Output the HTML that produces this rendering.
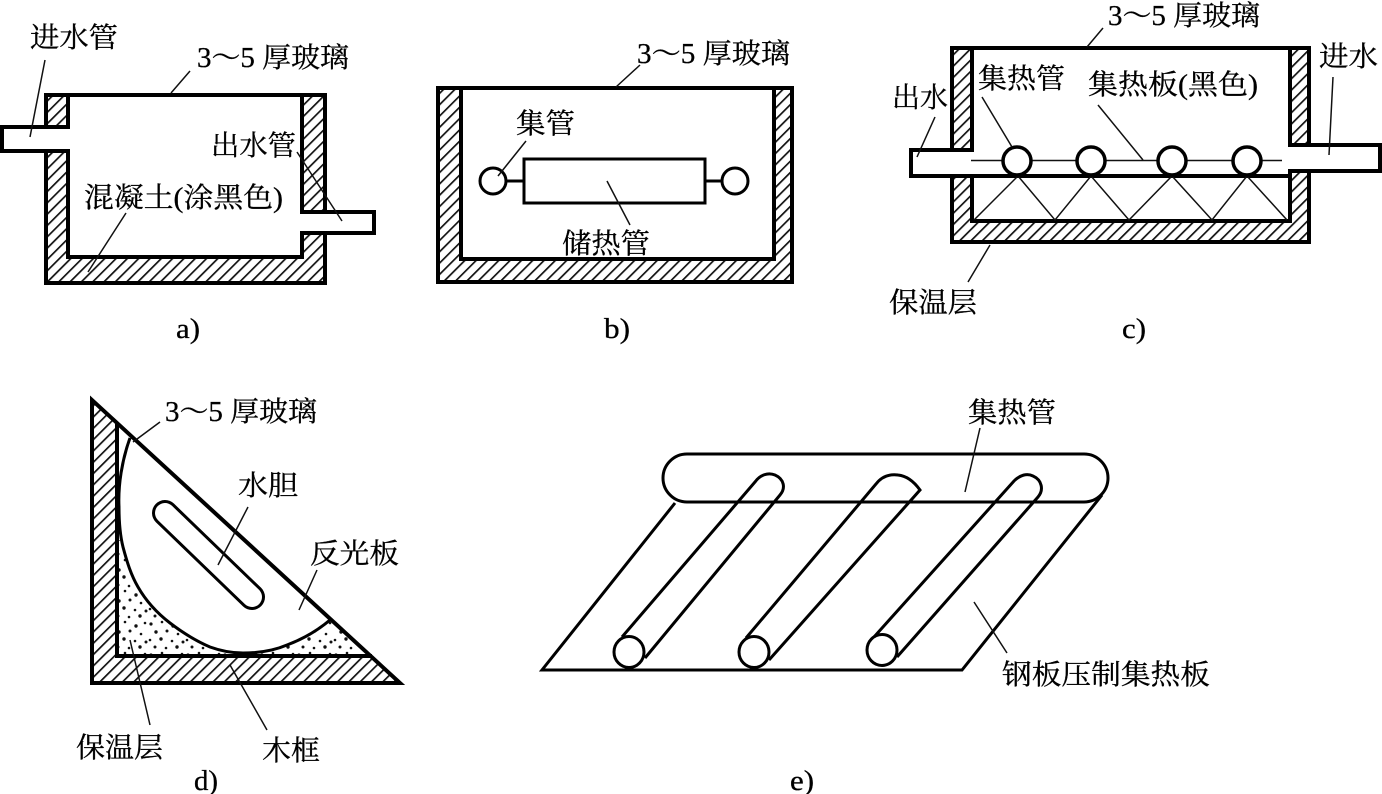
<!DOCTYPE html>
<html><head><meta charset="utf-8"><style>
html,body{margin:0;padding:0;background:#fff;width:1382px;height:794px;overflow:hidden}
svg{display:block}
text{font-family:"Liberation Serif","Noto Serif CJK SC",serif;font-size:28px;fill:#000;stroke:#000;stroke-width:.3}
.s{fill:none;stroke:#000;stroke-width:4;stroke-linejoin:miter}
.t{fill:none;stroke:#111;stroke-width:1.5}
.m{fill:none;stroke:#000;stroke-width:3}
</style></head><body>
<svg width="1382" height="794" viewBox="0 0 1382 794" xmlns="http://www.w3.org/2000/svg">
<defs>
<pattern id="h" width="8" height="8" patternUnits="userSpaceOnUse" patternTransform="rotate(45)">
<rect width="8" height="8" fill="#fff"/><rect x="0" y="0" width="1.700" height="8" fill="#111"/>
</pattern>
<pattern id="d" width="37" height="31" patternUnits="userSpaceOnUse">
<rect width="37" height="31" fill="#fff"/>
<g fill="#111"><circle cx="3" cy="4" r="1.600"/><circle cx="14" cy="2" r="1.300"/><circle cx="25" cy="6" r="1.700"/><circle cx="34" cy="3" r="1.300"/><circle cx="8" cy="12" r="1.700"/><circle cx="19" cy="11" r="1.500"/><circle cx="30" cy="14" r="1.300"/><circle cx="2" cy="20" r="1.300"/><circle cx="13" cy="19" r="1.700"/><circle cx="24" cy="21" r="1.300"/><circle cx="35" cy="22" r="1.500"/><circle cx="7" cy="27" r="1.500"/><circle cx="18" cy="28" r="1.300"/><circle cx="29" cy="27" r="1.700"/></g>
</pattern>
</defs>

<!-- a -->
<path d="M46 95H325V212H374V233H325V283H46V151H2V127H46Z" fill="url(#h)"/>
<path d="M68 95H302V257H68Z" fill="#fff"/>
<path d="M0 127H68V151H0Z" fill="#fff"/>
<path d="M302 212H372V233H302Z" fill="#fff"/>
<path class="s" d="M46 127V95H325V212M325 233V283H46V151"/>
<path class="s" d="M68 95V127H2V151H68V257H302V233H374V212H302V95"/>
<path class="t" d="M45 60L30 137M190 71L171 93M297 152L342 221M126 213L88 272"/>

<!-- b -->
<path d="M438 88H793V282H438Z" fill="url(#h)"/>
<path d="M461 88H774V259H461Z" fill="#fff"/>
<path class="s" d="M438 88H792V282H438Z"/>
<path class="s" d="M461 88V259H774V88"/>
<rect class="m" x="524" y="159" width="181" height="44" stroke-width="3.500"/>
<circle class="m" cx="493" cy="181" r="13"/>
<circle class="m" cx="735" cy="181" r="13"/>
<path class="m" d="M506 181H524M705 181H722"/>
<path class="t" d="M526 141L498 176M607 181L630 225M640 65L616 87"/>

<!-- c -->
<path d="M952 48H1309V242H952Z" fill="url(#h)"/>
<path d="M972 48H1290V221H972Z" fill="#fff"/>
<path d="M910 150H972V176H910ZM1290 145H1380V171H1290Z" fill="#fff"/>
<path class="s" d="M952 150V48H1309V145M1309 171V242H952V176"/>
<path class="s" d="M972 48V150H911V176H972V221H1290V171H1380V145H1290V48"/>
<path class="s" d="M972 176H1290"/>
<path class="t" d="M971 160.500H1282"/>
<path class="t" d="M974 220L1018 176L1055 220L1091 176L1129 220L1172 176L1212 220L1247 176L1287 220"/>
<g fill="#fff" stroke="#000" stroke-width="3.500">
<circle cx="1017" cy="161" r="14"/><circle cx="1091" cy="161" r="14"/><circle cx="1172" cy="161" r="14"/><circle cx="1247" cy="161" r="14"/>
</g>
<path class="t" d="M1103 28L1087 47M1333 77L1329 155M935 117L917 157M982 97L1012 147M1098 105L1143 160M990 245L968 282"/>

<!-- d -->
<path d="M92 400V683H400Z" fill="url(#h)"/>
<path d="M117 424V656H372Z" fill="#fff"/>
<path d="M117 540V656H372L330 618L123 540Z" fill="url(#d)"/>
<path d="M130 438C122 460 118 485 119 507C119 522 120 535 123 547C127 562 131 575 138 587C146 601 157 613 170 623C183 633 196 641 210 647C221 651 232 653 243 653C259 653 273 651 287 645C303 639 317 631 330 620Z" fill="#fff"/>
<path class="s" d="M92 400V683H400Z" stroke-width="3.500"/>
<path class="s" d="M117 424V656H372"/>
<path class="m" d="M130 438C122 460 118 485 119 507C119 522 120 535 123 547C127 562 131 575 138 587C146 601 157 613 170 623C183 633 196 641 210 647C221 651 232 653 243 653C259 653 273 651 287 645C303 639 317 631 330 620"/>
<path d="M165 513L252 597" stroke="#000" stroke-width="26" stroke-linecap="round"/>
<path d="M165 513L252 597" stroke="#fff" stroke-width="20" stroke-linecap="round"/>
<path class="t" d="M160 422L133 442M248 507L218 565M317 570L299 610M130 640L150 725M230 665L267 730"/>

<!-- e -->
<path class="m" d="M675 503L542 670H962L1102 495"/>
<rect class="m" x="663" y="454" width="445" height="48" rx="24" ry="24" stroke-width="3.500"/>
<path class="m" d="M622 637L755 482C760 475 768 472 775 475C784 479 786 488 780 495L645 658"/>
<ellipse class="m" cx="629" cy="652" rx="15" ry="15.500"/>
<path class="m" d="M746 638L876 484C882 476 890 474 898 475C908 476 915 483 920 490L769 660"/>
<ellipse class="m" cx="754" cy="652" rx="15" ry="15.500"/>
<path class="m" d="M874 637L1014 481C1020 475 1027 473 1033 476C1042 480 1044 490 1038 497L897 657"/>
<ellipse class="m" cx="882" cy="650" rx="15" ry="15.500"/>
<path class="t" d="M980 428L965 492M974 602L1007 653"/>

<!-- labels -->
<text x="30" y="47" textLength="88" lengthAdjust="spacingAndGlyphs">进水管</text>
<text x="197" y="67" textLength="152" lengthAdjust="spacingAndGlyphs">3～5 厚玻璃</text>
<text x="211" y="155" textLength="85" lengthAdjust="spacingAndGlyphs">出水管</text>
<text x="84" y="207" textLength="199" lengthAdjust="spacingAndGlyphs">混凝土(涂黑色)</text>
<text x="176" y="338" textLength="24" lengthAdjust="spacingAndGlyphs">a)</text>

<text x="637" y="63" textLength="153" lengthAdjust="spacingAndGlyphs">3～5 厚玻璃</text>
<text x="516" y="133" textLength="59" lengthAdjust="spacingAndGlyphs">集管</text>
<text x="562" y="253" textLength="88" lengthAdjust="spacingAndGlyphs">储热管</text>
<text x="604" y="338" textLength="26" lengthAdjust="spacingAndGlyphs">b)</text>

<text x="1108" y="25" textLength="152" lengthAdjust="spacingAndGlyphs">3～5 厚玻璃</text>
<text x="1319" y="66" textLength="59" lengthAdjust="spacingAndGlyphs">进水</text>
<text x="892" y="107" textLength="56" lengthAdjust="spacingAndGlyphs">出水</text>
<text x="978" y="88" textLength="87" lengthAdjust="spacingAndGlyphs">集热管</text>
<text x="1088" y="94" textLength="170" lengthAdjust="spacingAndGlyphs">集热板(黑色)</text>
<text x="889" y="312" textLength="88" lengthAdjust="spacingAndGlyphs">保温层</text>
<text x="1122" y="338" textLength="24" lengthAdjust="spacingAndGlyphs">c)</text>

<text x="165" y="421" textLength="152" lengthAdjust="spacingAndGlyphs">3～5 厚玻璃</text>
<text x="238" y="495" textLength="60" lengthAdjust="spacingAndGlyphs">水胆</text>
<text x="310" y="563" textLength="89" lengthAdjust="spacingAndGlyphs">反光板</text>
<text x="76" y="757" textLength="87" lengthAdjust="spacingAndGlyphs">保温层</text>
<text x="262" y="760" textLength="58" lengthAdjust="spacingAndGlyphs">木框</text>
<text x="194" y="790" textLength="24" lengthAdjust="spacingAndGlyphs">d)</text>

<text x="968" y="422" textLength="88" lengthAdjust="spacingAndGlyphs">集热管</text>
<text x="1002" y="684" textLength="208" lengthAdjust="spacingAndGlyphs">钢板压制集热板</text>
<text x="790" y="790" textLength="24" lengthAdjust="spacingAndGlyphs">e)</text>
</svg>
</body></html>
